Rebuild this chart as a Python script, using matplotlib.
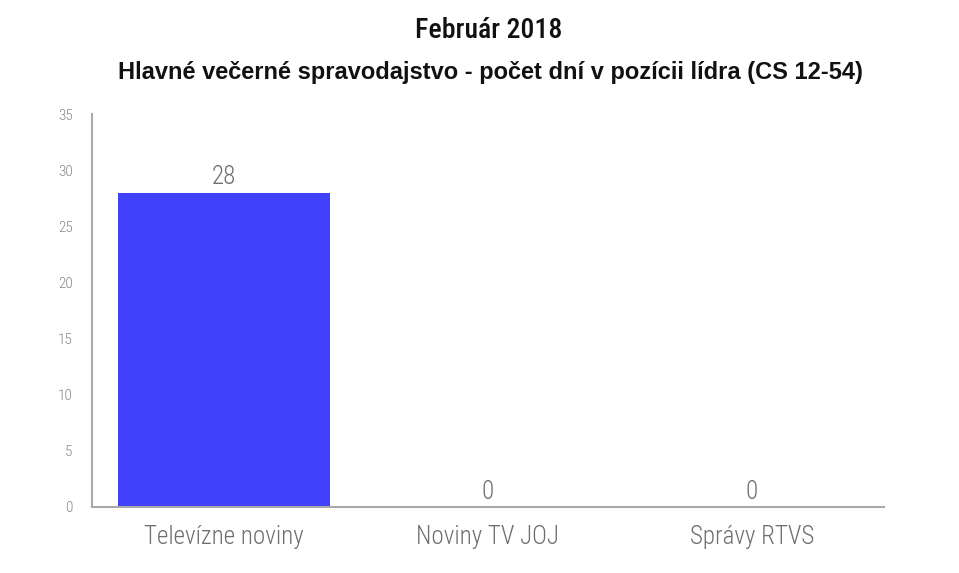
import matplotlib
matplotlib.use("Agg")
import matplotlib.pyplot as plt

categories = ["Televízne noviny", "Noviny TV JOJ", "Správy RTVS"]
values = [28, 0, 0]
y_ticks = [0, 5, 10, 15, 20, 25, 30, 35]

fig = plt.figure(figsize=(9.59, 5.73), dpi=100)
ax = fig.add_axes([92 / 959, 66 / 573, 792 / 959, 393 / 573])

x = list(range(len(categories)))
ax.bar(x, values, width=0.8, color="#4141fa")

# popisky hodnot nad stĺpcami
for a, b in zip(x, values):
    ax.text(a, b + 0.3, str(b), ha="center", va="bottom", fontsize=18,
            color="#6e6e6e", family="Roboto Condensed", fontweight="light")

ax.set_xlim(-0.5, 2.5)
ax.set_ylim(0, 35)
ax.set_xticks(x)
ax.set_xticklabels(categories, fontsize=18, color="#6e6e6e", family="Roboto Condensed", fontweight="light")
ax.set_yticks(y_ticks)
ax.set_yticklabels([str(t) for t in y_ticks], fontsize=11, color="#888888",
                   family="Roboto Condensed", fontweight="light")
ax.tick_params(axis="both", length=0)
ax.tick_params(axis="x", pad=13)
ax.tick_params(axis="y", pad=14)

for s in ["top", "right"]:
    ax.spines[s].set_visible(False)
for s in ["left", "bottom"]:
    ax.spines[s].set_color("#aaaaaa")
    ax.spines[s].set_linewidth(1.5)

fig.text(489 / 959, 1 - 30 / 573, "Február 2018", ha="center", va="center", fontsize=20,
         family="Roboto Condensed", fontweight="medium", color="#111111")
fig.text(490 / 959, 1 - 73 / 573, "Hlavné večerné spravodajstvo - počet dní v pozícii lídra (CS 12-54)",
         ha="center", va="center", fontsize=17, family="Liberation Sans", fontweight="bold", color="#111111")

fig.savefig("out.png", dpi=100)
